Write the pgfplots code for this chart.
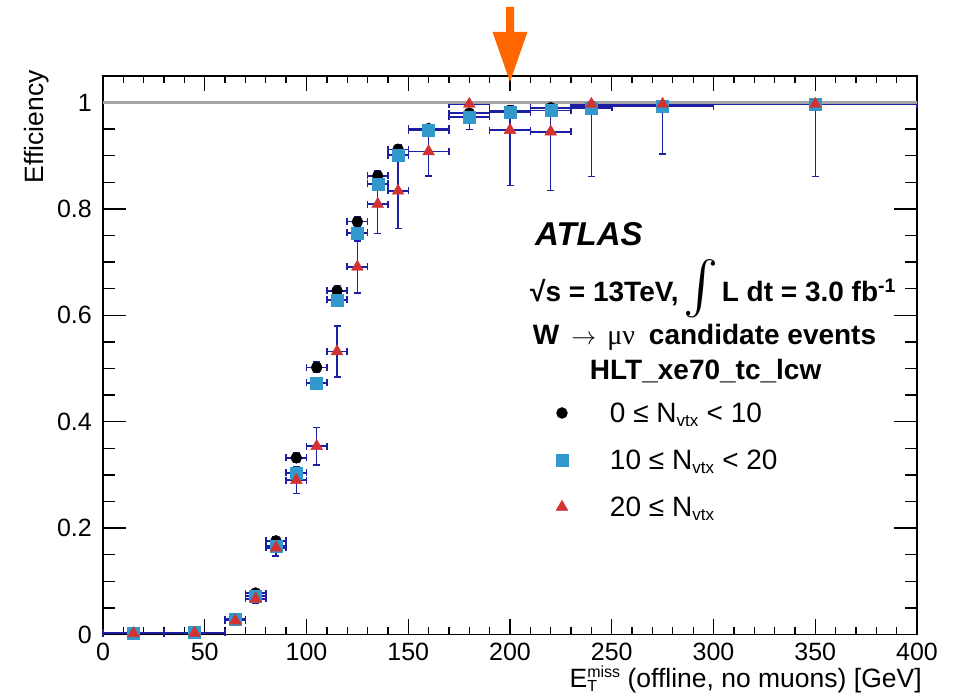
\documentclass[border=0pt]{standalone}
\usepackage{fontspec}
\setmainfont{Liberation Sans}
\newfontfamily\symfont{Liberation Serif}
\usepackage{pgfplots}
\pgfplotsset{compat=1.18}
\usepackage{pgfplotstable}
\definecolor{mblue}{RGB}{51,153,204}
\definecolor{mred}{RGB}{210,50,50}
\definecolor{ebar}{RGB}{30,30,165}
\definecolor{arr}{RGB}{255,102,0}
\definecolor{refline}{RGB}{165,165,165}

% 0 <= Nvtx < 10
\pgfplotstableread{
x ex y em ep
15 15 0.003 0.001 0.001
45 15 0.004 0.001 0.001
65 5 0.029 0.003 0.003
75 5 0.078 0.005 0.005
85 5 0.176 0.007 0.007
95 5 0.332 0.009 0.009
105 5 0.502 0.010 0.010
115 5 0.646 0.010 0.010
125 5 0.776 0.010 0.010
135 5 0.862 0.009 0.009
145 5 0.912 0.008 0.008
160 10 0.951 0.006 0.006
180 10 0.980 0.006 0.005
200 10 0.985 0.007 0.006
220 10 0.990 0.008 0.005
240 10 0.993 0.008 0.004
275 25 0.992 0.006 0.004
350 50 0.996 0.006 0.003
}\dataA

% 10 <= Nvtx < 20
\pgfplotstableread{
x ex y em ep
15 15 0.002 0.001 0.001
45 15 0.004 0.001 0.001
65 5 0.029 0.003 0.003
75 5 0.072 0.005 0.005
85 5 0.166 0.007 0.007
95 5 0.304 0.009 0.009
105 5 0.473 0.010 0.010
115 5 0.629 0.010 0.010
125 5 0.755 0.010 0.010
135 5 0.847 0.009 0.009
145 5 0.901 0.008 0.008
160 10 0.948 0.006 0.006
180 10 0.973 0.007 0.006
200 10 0.982 0.007 0.006
220 10 0.985 0.008 0.005
240 10 0.990 0.008 0.004
275 25 0.993 0.006 0.004
350 50 0.996 0.006 0.003
}\dataB

% 20 <= Nvtx
\pgfplotstableread{
x ex y em ep
15 15 0.002 0.001 0.001
45 15 0.003 0.001 0.001
65 5 0.026 0.005 0.005
75 5 0.067 0.008 0.008
85 5 0.163 0.015 0.015
95 5 0.290 0.025 0.025
105 5 0.354 0.035 0.035
115 5 0.532 0.048 0.048
125 5 0.691 0.049 0.049
135 5 0.809 0.055 0.055
145 5 0.834 0.071 0.071
160 10 0.908 0.046 0.038
180 10 0.997 0.048 0.003
200 10 0.948 0.104 0.045
220 10 0.945 0.110 0.048
240 10 0.997 0.136 0.003
275 25 0.997 0.094 0.003
350 50 0.997 0.136 0.003
}\dataC

\pgfplotsset{
  ebars/.style={
    error bars/.cd,
      x dir=both, x explicit,
      y dir=both, y explicit,
      error bar style={draw=ebar, line width=1.5pt},
      error mark=-,
      error mark options={rotate=90, draw=ebar, line width=1.5pt, mark size=3.5pt},
  },
}

\begin{document}
\begin{tikzpicture}
\begin{axis}[
  at={(0pt,0pt)}, anchor=south west,
  scale only axis,
  width=814pt, height=558.6pt,
  xmin=0, xmax=400, ymin=0, ymax=1.05,
  xtick={0,50,100,150,200,250,300,350,400},
  ytick={0,0.2,0.4,0.6,0.8,1},
  minor x tick num=4,
  minor y tick num=3,
  tick align=inside,
  axis line style={line width=1.5pt},
  every tick/.style={black, line width=1.3pt},
  major tick length=23pt, minor tick length=12pt,
  xtick style={/pgfplots/major tick length=15pt, /pgfplots/minor tick length=7pt},
  /pgf/number format/assume math mode=true,
  ticklabel style={font=\fontsize{25}{25}\selectfont},
  xticklabel style={inner sep=0pt, yshift=-8.8pt},
  yticklabel style={inner sep=0pt, xshift=-11pt},
  clip=false,
  legend style={draw=none, fill=none, at={(0.5565,0.415)}, anchor=north west,
    inner sep=0pt, outer sep=0pt, row sep=21pt, column sep=0pt,
    font=\fontsize{28}{28}\selectfont,
    nodes={inner sep=0pt, text height=20pt, text depth=6pt},
    cells={anchor=base west}},
  legend image code/.code={\path[draw=none, fill=none] (-6pt,0pt) rectangle (48pt,0.1pt); \draw[#1] plot coordinates {(0pt,9.7pt)};},
]
\addplot[only marks, mark=*, mark size=5.5pt, black, mark options={fill=black, draw=black}, ebars]
  table[x=x, y=y, x error=ex, y error plus=ep, y error minus=em]{\dataA};
\addlegendentry{0 ≤ N$_{\mbox{\fontsize{17}{17}\selectfont vtx}}$ < 10}
\addplot[only marks, mark=square*, mark size=6pt, mblue, mark options={fill=mblue, draw=mblue}, ebars]
  table[x=x, y=y, x error=ex, y error plus=ep, y error minus=em]{\dataB};
\addlegendentry{10 ≤ N$_{\mbox{\fontsize{17}{17}\selectfont vtx}}$ < 20}
\addplot[only marks, mark=triangle*, mark size=6.8pt, mred, mark options={fill=mred, draw=mred}, ebars]
  table[x=x, y=y, x error=ex, y error plus=ep, y error minus=em]{\dataC};
\addlegendentry{20 ≤ N$_{\mbox{\fontsize{17}{17}\selectfont vtx}}$}

\draw[refline, line width=3pt] (axis cs:0,1) -- (axis cs:400,1);

% arrow at 200 GeV
\fill[arr] ([yshift=-6pt]axis cs:200,1.05) -- ([xshift=-17.5pt,yshift=44pt]axis cs:200,1.05)
  -- ([xshift=-4pt,yshift=44pt]axis cs:200,1.05) -- ([xshift=-4pt,yshift=69pt]axis cs:200,1.05)
  -- ([xshift=4pt,yshift=69pt]axis cs:200,1.05) -- ([xshift=4pt,yshift=44pt]axis cs:200,1.05)
  -- ([xshift=17.5pt,yshift=44pt]axis cs:200,1.05) -- cycle;

% labels
\node[rotate=90, anchor=base east, inner sep=0pt, font=\fontsize{26.5}{26.5}\selectfont]
  at (axis description cs:-0.0737,1.0106) {Efficiency};
\node[anchor=base east, inner sep=0pt, font=\fontsize{26.5}{26.5}\selectfont]
  at (axis description cs:1.006,-0.0955)
  {E\rlap{\raisebox{-4pt}{\fontsize{16}{16}\selectfont T}}\raisebox{10pt}{\fontsize{16}{16}\selectfont miss} (offline, no muons) [GeV]};

% text block
\node[anchor=base west, inner sep=0pt, font=\fontsize{33}{33}\selectfont\bfseries\itshape]
  at (axis description cs:0.5307,0.6955) {ATLAS};
\node[anchor=base west, inner sep=0pt, font=\fontsize{28}{28}\selectfont\bfseries]
  at (axis description cs:0.5246,0.5958)
  {√s = 13TeV,\hspace{5pt}\raisebox{-20pt}{\resizebox*{!}{62pt}{\raisebox{\depth}{$\int$}}}\hspace{3pt}L dt = 3.0 fb\textsuperscript{-1}};
\node[anchor=base west, inner sep=0pt, font=\fontsize{28}{28}\selectfont\bfseries]
  at (axis description cs:0.528,0.520)
  {W\hspace{12pt}{\fontsize{26}{26}\selectfont$\rightarrow$}\hspace{11pt}{\symfont\mdseries μν}\hspace{14pt}candidate events};
\node[anchor=base west, inner sep=0pt, font=\fontsize{28}{28}\selectfont\bfseries]
  at (axis description cs:0.598,0.4556) {HLT\_xe70\_tc\_lcw};
\end{axis}
\pgfresetboundingbox
\path[use as bounding box] (-103pt,-60.5pt) rectangle (850pt,634.5pt);
\end{tikzpicture}
\end{document}
